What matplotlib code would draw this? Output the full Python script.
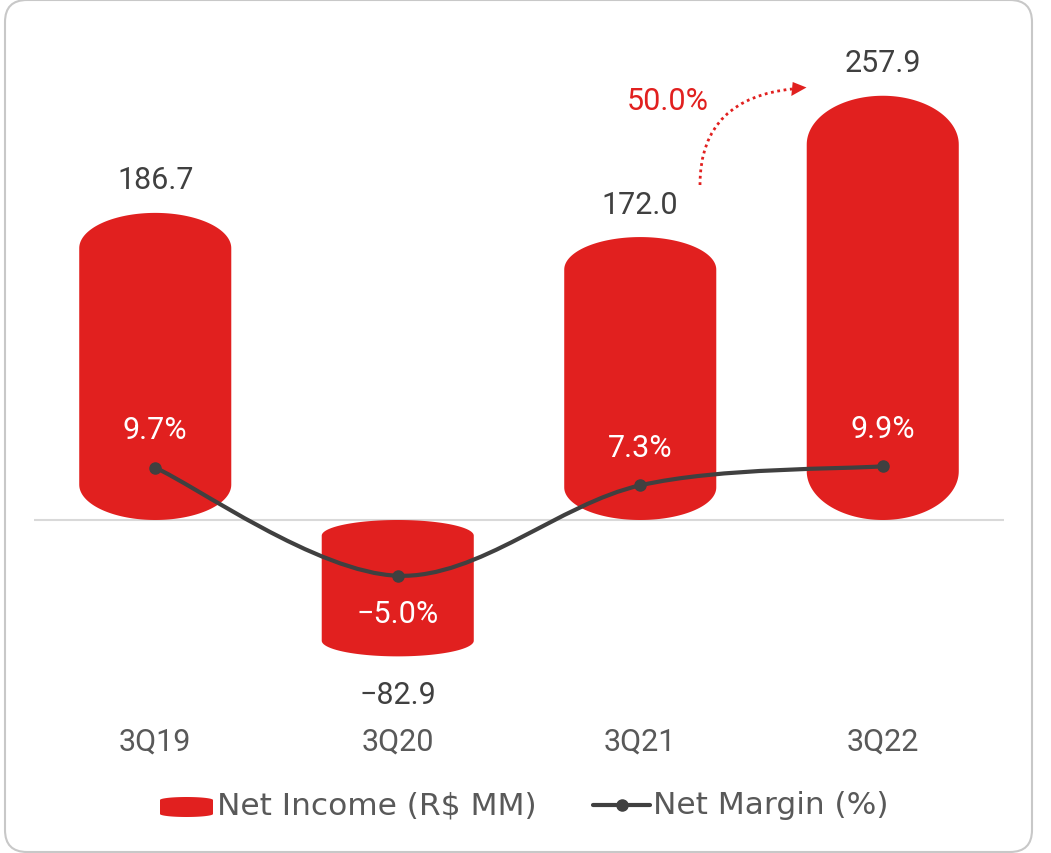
import numpy as np
import matplotlib
matplotlib.use('Agg')
import matplotlib.pyplot as plt
from matplotlib.path import Path
from matplotlib.patches import PathPatch, FancyBboxPatch, Polygon
from matplotlib.lines import Line2D
from matplotlib.transforms import IdentityTransform

# ---- data ----
categories = ['3Q19', '3Q20', '3Q21', '3Q22']
net_income = [186.7, -82.9, 172.0, 257.9]
net_margin = [9.7, -5.0, 7.3, 9.9]
growth_label = '50.0%'
legend_labels = ['Net Income (R$ MM)', 'Net Margin (%)']

plt.rcParams['font.family'] = ['Roboto', 'DejaVu Sans']

W, H = 1051, 854
fig = plt.figure(figsize=(W / 100, H / 100), dpi=100)

RED = '#E1201F'
DARK = '#404040'
GRAY = '#595959'
IDT = IdentityTransform()


def fmt(v, suffix=''):
    return (f'{v:.1f}' + suffix).replace('-', '\u2212')


# axes placed in image-pixel terms
ax_top, ax_bot = 30, 715
ax = fig.add_axes([34 / W, 1 - ax_bot / H, 970 / W, (ax_bot - ax_top) / H])
ax2 = ax.twinx()
ax.set_xlim(-0.5, 3.5)
ax.set_ylim((521 - ax_bot) / 1.645, (521 - ax_top) / 1.645)
ax2.set_ylim((540 - ax_bot) / 7.35, (540 - ax_top) / 7.35)
for a in (ax, ax2):
    for s in a.spines.values():
        s.set_visible(False)
    a.set_yticks([])
ax.patch.set_alpha(0)

ax.axhline(0, color='#d9d9d9', lw=1.5, zorder=1)

# ---- cylinder-like bars ----
x = np.arange(len(categories))
bar_w = 0.627
cap = 0.115
t = np.linspace(0, np.pi, 80)
for xi, v in zip(x, net_income):
    rx = bar_w / 2
    ry = cap * v
    top_x = xi + rx * np.cos(t)
    top_y = (v - ry) + ry * np.sin(t)
    bot_x = xi - rx * np.cos(t)
    bot_y = ry - ry * np.sin(t)
    ax.fill(np.r_[top_x, bot_x], np.r_[top_y, bot_y], color=RED, lw=0, zorder=2)

# value labels
for xi, v in zip(x, net_income):
    off = 33 if v >= 0 else -38
    ax.annotate(fmt(v), (xi, v), xytext=(0, off), textcoords='offset pixels',
                ha='center', va='center', fontsize=22, color=DARK, zorder=5)

# ---- smooth margin line ----
pts = np.column_stack([x, net_margin]).astype(float)
verts = [pts[0]]
codes = [Path.MOVETO]
n = len(pts)
for i in range(n - 1):
    p0 = pts[i - 1] if i > 0 else pts[i]
    p3 = pts[i + 2] if i + 2 < n else pts[i + 1]
    c1 = pts[i] + (pts[i + 1] - p0) / 6
    c2 = pts[i + 1] - (p3 - pts[i]) / 6
    verts += [c1, c2, pts[i + 1]]
    codes += [Path.CURVE4] * 3
ax2.add_patch(PathPatch(Path(verts, codes), fill=False, ec=DARK, lw=3,
                        capstyle='round', zorder=3))
ax2.plot(x, net_margin, 'o', color=DARK, ms=8, zorder=4)

for xi, m in zip(x, net_margin):
    off = 38 if m >= 0 else -38
    ax2.annotate(fmt(m, '%'), (xi, m), xytext=(0, off), textcoords='offset pixels',
                 ha='center', va='center', fontsize=22, color='white', zorder=6)

# ticks
ax.set_xticks(x, categories)
ax.tick_params(axis='x', length=0, pad=9, labelsize=22, labelcolor=GRAY)

# ---- growth arrow ----
P = [(700, 186), (700, 125), (735, 96), (792, 90)]
fig.add_artist(PathPatch(Path([(px, H - py) for px, py in P],
                              [Path.MOVETO, Path.CURVE4, Path.CURVE4, Path.CURVE4]),
                         fill=False, ec=RED, lw=2, ls=(0, (1, 1.3)), transform=IDT))
fig.add_artist(Polygon([(806.5, H - 88.5), (792.7, H - 83), (791.3, H - 97)],
                       closed=True, fc=RED, ec='none', transform=IDT))
fig.text(668 / W, 1 - 101 / H, growth_label, ha='center', va='center',
         fontsize=22, color=RED)

# ---- legend ----
ly = 806
lt = np.linspace(0, np.pi, 40)
lrx, lry, lh = 26.5, 3, 20
lcx, lcy = 186.5, 808
lxs = np.r_[lcx + lrx * np.cos(lt), lcx - lrx * np.cos(lt)]
lys = np.r_[(H - lcy + lh / 2 - lry) + lry * np.sin(lt), (H - lcy - lh / 2 + lry) - lry * np.sin(lt)]
fig.add_artist(Polygon(np.column_stack([lxs, lys]), closed=True, fc=RED, ec='none', transform=IDT))
fig.text(217 / W, 1 - ly / H, legend_labels[0], ha='left', va='center', fontsize=22.5,
         color=GRAY, family=['DejaVu Sans'])
fig.add_artist(Line2D([593, 650], [H - ly, H - ly], color=DARK, lw=3,
                      solid_capstyle='round', transform=IDT))
fig.add_artist(Line2D([621.5], [H - ly], marker='o', ms=8, color=DARK, transform=IDT))
fig.text(653 / W, 1 - ly / H, legend_labels[1], ha='left', va='center', fontsize=22.5,
         color=GRAY, family=['DejaVu Sans'])

# ---- rounded frame ----
fig.add_artist(FancyBboxPatch((5, 1), 1027, 852, boxstyle='round,pad=0,rounding_size=22',
                              fill=False, ec='#c8c8c8', lw=1.5, transform=IDT))

fig.savefig('out.png', dpi=100)
